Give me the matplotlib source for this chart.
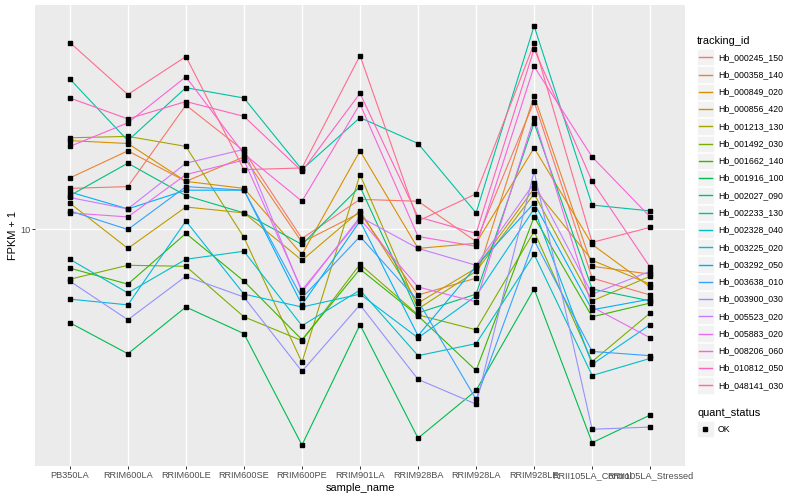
import matplotlib
matplotlib.use('Agg')
import matplotlib.pyplot as plt
from matplotlib.patches import Rectangle
from matplotlib.ticker import NullLocator
import numpy as np

plt.rcParams['font.family'] = ['Liberation Sans', 'DejaVu Sans']

# data (FPKM + 1)
samples = ['PB350LA', 'RRIM600LA', 'RRIM600LE', 'RRIM600SE', 'RRIM600PE', 'RRIM901LA',
           'RRIM928BA', 'RRIM928LA', 'RRIM928LE', 'RRII105LA_Control', 'RRII105LA_Stressed']

tracking_ids = ['Hb_000245_150', 'Hb_000358_140', 'Hb_000849_020', 'Hb_000856_420',
                'Hb_001213_130', 'Hb_001492_030', 'Hb_001662_140', 'Hb_001916_100',
                'Hb_002027_090', 'Hb_002233_130', 'Hb_002328_040', 'Hb_003225_020',
                'Hb_003292_050', 'Hb_003638_010', 'Hb_003900_030', 'Hb_005523_020',
                'Hb_005883_020', 'Hb_008206_060', 'Hb_010812_050', 'Hb_048141_030']

fpkm = [
    [12.1, 12.2, 17.8, 14.4, 9.59, 11.5, 11.4, 9.46, 18.1, 7.98, 7.38],
    [12.7, 14.4, 12.5, 14.0, 9.42, 10.8, 7.38, 7.98, 18.6, 8.43, 8.13],
    [15.1, 14.9, 12.5, 12.1, 8.91, 14.4, 9.16, 9.38, 14.6, 9.33, 7.66],
    [11.3, 9.16, 11.1, 10.8, 8.67, 10.9, 7.11, 8.36, 12.1, 8.67, 7.76],
    [15.3, 15.4, 14.7, 9.64, 5.40, 12.9, 6.92, 8.24, 11.8, 7.18, 8.05],
    [7.94, 8.47, 8.43, 6.67, 5.97, 8.51, 6.73, 6.28, 9.91, 5.42, 6.79],
    [8.36, 7.76, 9.82, 7.87, 6.00, 8.32, 6.70, 5.20, 10.6, 6.67, 7.11],
    [6.49, 5.62, 6.98, 6.17, 3.68, 6.43, 3.80, 4.74, 7.59, 3.72, 4.23],
    [11.7, 13.6, 11.7, 10.8, 9.33, 12.2, 6.79, 7.41, 16.4, 7.59, 7.18],
    [20.1, 15.1, 19.3, 18.4, 13.2, 16.8, 14.9, 10.8, 25.7, 11.2, 10.9],
    [8.71, 7.45, 8.71, 9.04, 6.40, 7.55, 5.57, 5.89, 8.91, 5.08, 5.50],
    [7.24, 7.05, 10.4, 7.41, 6.98, 7.41, 6.05, 7.35, 11.0, 5.35, 6.43],
    [11.9, 11.0, 12.0, 12.0, 7.05, 10.4, 6.11, 8.43, 11.3, 6.89, 7.24],
    [10.9, 10.0, 12.2, 12.0, 7.28, 9.68, 7.18, 4.55, 9.51, 5.68, 5.57],
    [7.87, 6.58, 8.05, 7.31, 5.18, 7.05, 4.99, 4.45, 13.1, 3.96, 4.00],
    [11.6, 11.0, 13.6, 14.5, 7.48, 10.6, 9.16, 8.47, 12.4, 7.41, 8.24],
    [10.8, 10.6, 12.9, 13.8, 7.55, 10.5, 7.66, 7.15, 16.8, 6.98, 6.05],
    [14.7, 16.4, 20.3, 14.2, 11.4, 17.9, 9.68, 9.25, 21.3, 14.0, 10.6],
    [18.4, 16.7, 18.1, 16.9, 13.1, 18.8, 10.6, 9.82, 23.1, 12.5, 8.39],
    [23.8, 18.7, 22.3, 13.2, 13.3, 22.4, 10.4, 11.8, 23.7, 9.42, 10.1],
]

colors = ['#F8766D', '#EA8331', '#D89000', '#C09B00', '#A3A500', '#7CAE00', '#39B600',
          '#00BB4E', '#00BF7D', '#00C1A3', '#00BFC4', '#00BAE0', '#00B0F6', '#35A2FF',
          '#9590FF', '#C77CFF', '#E76BF3', '#FA62DB', '#FF62BC', '#FF6C91']

# canvas
fig = plt.figure(figsize=(8, 5), dpi=100)
ax = fig.add_axes([35 / 800, 1 - 466 / 500, 650 / 800, 461 / 500])
ax.set_facecolor('#EBEBEB')
for s in ax.spines.values():
    s.set_visible(False)

x = np.arange(len(samples))
for vals, col in zip(fpkm, colors):
    ax.plot(x, vals, color=col, lw=0.8, zorder=2)
for vals in fpkm:
    ax.plot(x, vals, ls='none', marker='s', ms=2.2, color='black', zorder=3)

ax.set_yscale('log')
lo = np.log10(np.min(fpkm))
hi = np.log10(np.max(fpkm))
pad = (hi - lo) * 0.05
ax.set_ylim(10 ** (lo - pad), 10 ** (hi + pad))
ax.set_xlim(-0.6, len(samples) - 0.4)
ax.set_yticks([10])
ax.set_yticklabels(['10'])
ax.yaxis.set_minor_locator(NullLocator())
ax.set_xticks(x)
ax.set_xticklabels(samples)
ax.grid(True, color='white', lw=1.0, zorder=0)
ax.set_axisbelow(True)
ax.tick_params(axis='both', length=2.0, width=0.7, color='#333333',
               labelcolor='#4D4D4D', labelsize=6.6, pad=1.5)
ax.set_xlabel('sample_name', fontsize=7.9, labelpad=2)
ax.set_ylabel('FPKM + 1', fontsize=7.9, labelpad=1)

# legend drawn in pixel space
lg = fig.add_axes([0, 0, 1, 1], zorder=5)
lg.set_xlim(0, 800)
lg.set_ylim(500, 0)
lg.axis('off')
lg.text(697, 40.5, 'tracking_id', fontsize=7.9, va='center', ha='left')
step = 17.27
for i, (name, col) in enumerate(zip(tracking_ids, colors)):
    yc = 57.3 + step * i
    lg.add_patch(Rectangle((697, yc - step / 2 + 0.5), 16.5, step - 1, facecolor='#F2F2F2',
                           edgecolor='white', lw=0.5))
    lg.plot([699, 711.5], [yc, yc], color=col, lw=1.0)
    lg.text(718, yc, name, fontsize=6.3, va='center', ha='left')

lg.text(697, 412.5, 'quant_status', fontsize=7.9, va='center', ha='left')
lg.add_patch(Rectangle((697, 429 - step / 2 + 0.5), 16.5, step - 1, facecolor='#F2F2F2',
                       edgecolor='white', lw=0.5))
lg.plot([705.2], [429], marker='s', ms=2.2, color='black')
lg.text(718, 429, 'OK', fontsize=6.3, va='center', ha='left')

plt.savefig('out.png', dpi=100)
